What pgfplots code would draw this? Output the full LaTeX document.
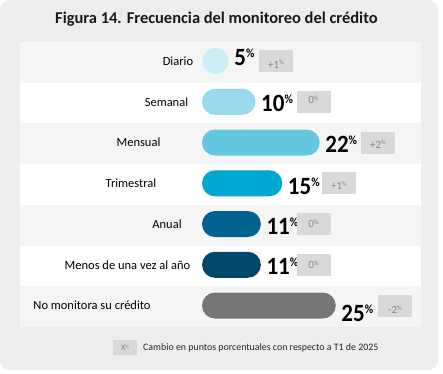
\documentclass[border=0pt]{standalone}
\usepackage{pgfplots}
\pgfplotsset{compat=1.18}
\usepackage{pgfplotstable}
\usepackage{fontspec}
\setmainfont{Carlito}

\definecolor{card}{HTML}{EDEDED}
\definecolor{band}{HTML}{F5F5F5}
\definecolor{boxgray}{HTML}{D9D9D9}
\definecolor{chgtext}{HTML}{858585}
\definecolor{cA}{HTML}{CDEEF6}
\definecolor{cB}{HTML}{9BDAEC}
\definecolor{cC}{HTML}{63C7DF}
\definecolor{cD}{HTML}{00A7CF}
\definecolor{cE}{HTML}{00628F}
\definecolor{cF}{HTML}{00476B}
\definecolor{cG}{HTML}{767676}

\newcommand{\chgfmt}[1]{\fontsize{11}{11}\selectfont #1\raisebox{3.2pt}{\fontsize{6.5}{6.5}\selectfont\%}}
\newcommand{\chg}[2]{\smash{\raisebox{-#1pt}{\chgfmt{#2}}}}

\pgfplotstableread[col sep=semicolon]{
k;lx;lab;bx;ch
0;-4.49;Diario;13.83;\chg{7}{+1}
1;-6.64;Semanal;20.84;\chg{2}{0}
2;-11.87;Mensual;32.90;\chg{5.5}{+2}
3;-13.27;Trimestral;25.61;\chg{6.5}{+1}
4;-6.54;Anual;20.84;\chg{3.5}{0}
5;-13.93;Menos de una vez al año;20.84;\chg{3.5}{0}
6;-20.56;No monitora su crédito;36.07;\chg{8}{-2}
}\chdata

\newcommand{\valfmt}[1]{\scalebox{1}[1.08]{\fontsize{23}{23}\selectfont\bfseries #1\raisebox{7.6pt}{\fontsize{11.5}{11.5}\selectfont\bfseries\%}}}

\pgfplotsset{
  valbar/.style 2 args={xbar, bar shift=0pt, bar width=26pt, draw=none, fill=#1, rounded corners=13pt,
    point meta=explicit symbolic,
    nodes near coords={\valfmt{\pgfplotspointmeta}},
    every node near coord/.append style={anchor=west, xshift=5.5pt, yshift=#2, text=black, inner sep=0pt}},
}

\begin{document}
\begin{tikzpicture}
\useasboundingbox (0,0) rectangle (443pt,373pt);
\fill[white] (0,0) rectangle (443pt,373pt);
\fill[card, rounded corners=10pt] (0,3pt) rectangle (438pt,373pt);
\fill[white] (20pt,{373pt-42pt}) rectangle (421pt,{373pt-326.9pt});
\foreach \i in {0,2,4,6}{
  \fill[band] (20pt,{(373-42-40.7*\i)*1pt}) rectangle (421pt,{(373-42-40.7*(\i+1))*1pt});
}
\node[anchor=base west, inner sep=0pt, text=black!90] at (55pt,349pt) {\fontsize{16.45}{16.45}\selectfont\bfseries Figura 14. Frecuencia del monitoreo del crédito};
\fill[boxgray] (113pt,18pt) rectangle (137pt,33pt);
\node[text=chgtext, inner sep=0pt] at (125pt,25pt) {\fontsize{8.5}{8.5}\selectfont X\raisebox{2.5pt}{\fontsize{5}{5}\selectfont\%}};
\node[anchor=west, inner sep=0pt, text=black!85] at (143pt,25pt) {\fontsize{9.9}{9.9}\selectfont Cambio en puntos porcentuales con respecto a T1 de 2025};

\begin{axis}[
  at={(0,0)}, anchor=south west,
  width=443pt, height=373pt, scale only axis,
  xmin=-37.757, xmax=45.047,
  ymin=-1.497, ymax=7.656, y dir=reverse,
  hide axis, clip=false,
]
\addplot[valbar={cA}{4pt}] coordinates {(5,0)[5]};
\addplot[valbar={cB}{-1.5pt}] coordinates {(10,1)[10]};
\addplot[valbar={cC}{-1.5pt}] coordinates {(22,2)[22]};
\addplot[valbar={cD}{-3pt}] coordinates {(15,3)[15]};
\addplot[valbar={cE}{-2.5pt}] coordinates {(11,4)[11]};
\addplot[valbar={cF}{-1.5pt}] coordinates {(11,5)[11]};
\addplot[valbar={cG}{-8pt}] coordinates {(25,6)[25]};

\addplot[draw=none, mark=none, point meta=explicit symbolic,
  nodes near coords={\pgfplotspointmeta},
  every node near coord/.append style={anchor=center, inner sep=0pt, text=black, font=\fontsize{12.5}{12.5}\selectfont}]
  table[x=lx, y=k, meta=lab]{\chdata};

\addplot[draw=none, mark=none, point meta=explicit symbolic,
  nodes near coords={\pgfplotspointmeta},
  every node near coord/.append style={anchor=center, inner sep=0pt, fill=boxgray, text=chgtext, minimum width=34pt, minimum height=22pt}]
  table[x=bx, y=k, meta=ch]{\chdata};
\end{axis}
\end{tikzpicture}
\end{document}
